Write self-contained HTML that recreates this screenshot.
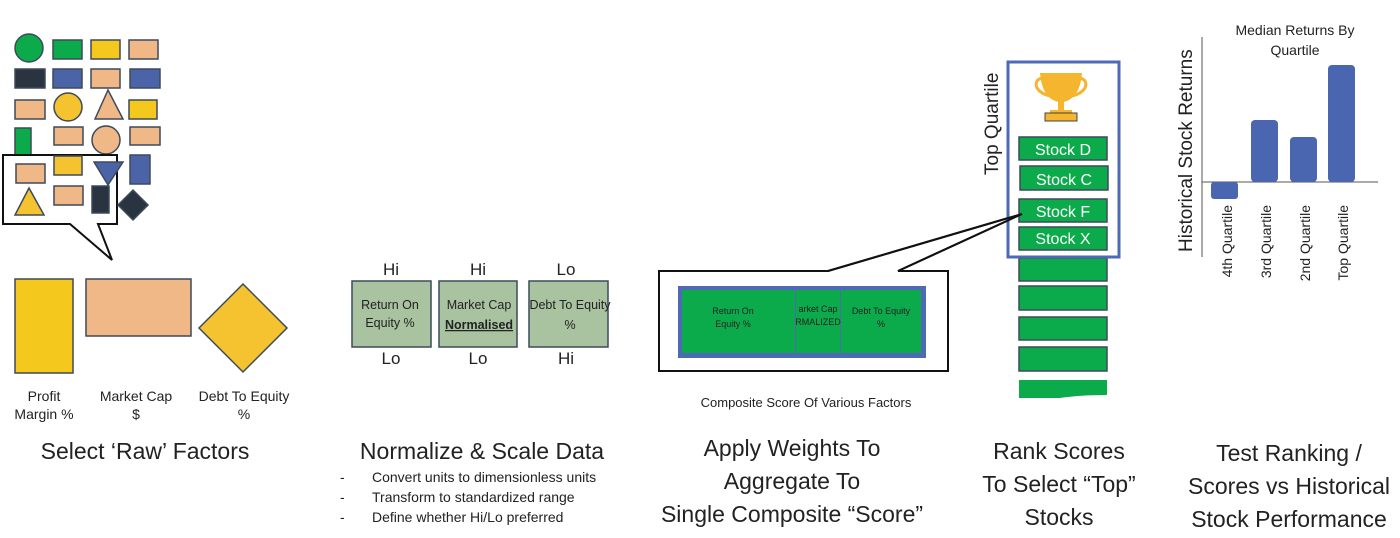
<!DOCTYPE html>
<html><head><meta charset="utf-8"><style>
html,body{margin:0;padding:0;background:#fff;}
svg{display:block;font-family:"Liberation Sans",sans-serif;}
</style></head><body>
<svg width="1400" height="538" viewBox="0 0 1400 538" xmlns="http://www.w3.org/2000/svg">
<g stroke="#3d4a5a" stroke-width="1.5">
<!-- row1 -->
<circle cx="29" cy="48" r="14" fill="#0bab4c"/>
<rect x="53" y="40" width="29" height="19" fill="#0bab4c"/>
<rect x="91" y="40" width="29" height="19" fill="#f5c81e"/>
<rect x="129" y="40" width="29" height="19" fill="#f0b787"/>
<!-- row2 -->
<rect x="15" y="69" width="30" height="19" fill="#2a3440"/>
<rect x="53" y="69" width="29" height="19" fill="#4b64a8"/>
<rect x="91" y="69" width="29" height="19" fill="#f0b787"/>
<rect x="130" y="69" width="30" height="19" fill="#4b64a8"/>
<!-- row3 -->
<rect x="15" y="100" width="30" height="19" fill="#f0b787"/>
<circle cx="68" cy="107" r="14" fill="#f5c230"/>
<polygon points="108,90 95,119 123,119" fill="#f0b787"/>
<rect x="129" y="100" width="28" height="19" fill="#f5c81e"/>
<!-- row4 -->
<rect x="15" y="128" width="16" height="27" fill="#0bab4c"/>
<rect x="54" y="127" width="29" height="18" fill="#f0b787"/>
<circle cx="106" cy="140" r="14" fill="#f0b787"/>
<rect x="130" y="127" width="30" height="18" fill="#f0b787"/>
</g>
<!-- callout -->
<path d="M3,155 H117 V224 H98 L112,260 L70,224 H3 Z" fill="#fff" stroke="#111" stroke-width="2"/>
<g stroke="#3d4a5a" stroke-width="1.5">
<rect x="16" y="164" width="29" height="19" fill="#f0b787"/>
<rect x="54" y="156" width="28" height="19" fill="#f5c230"/>
<polygon points="94,162 123,162 108,185" fill="#4b64a8"/>
<rect x="130" y="155" width="20" height="29" fill="#4b64a8"/>
<polygon points="29,188 15,215 44,215" fill="#f5c230"/>
<rect x="54" y="186" width="29" height="19" fill="#f0b787"/>
<rect x="92" y="186" width="17" height="27" fill="#2a3440"/>
<polygon points="133,190 148,205 133,220 118,205" fill="#2a3440"/>
</g>
<!-- big shapes -->
<rect x="15" y="279" width="58" height="94" fill="#f5c81e" stroke="#3d4a5a" stroke-width="1.5"/>
<rect x="86" y="279" width="105" height="57" fill="#f0b787" stroke="#3d4a5a" stroke-width="1.5"/>
<polygon points="243,284 287,328 243,372 199,328" fill="#f5c230" stroke="#3d4a5a" stroke-width="1.5"/>
<g font-size="14" fill="#222" text-anchor="middle">
<text x="44" y="401">Profit</text><text x="44" y="419">Margin %</text>
<text x="136" y="401">Market Cap</text><text x="136" y="419">$</text>
<text x="244" y="401">Debt To Equity</text><text x="244" y="419">%</text>
</g>
<!-- normalize -->
<g fill="#a9c3a0" stroke="#3d4a5a" stroke-width="1.5">
<rect x="352" y="281" width="79" height="66"/>
<rect x="439" y="281" width="78" height="66"/>
<rect x="529" y="281" width="79" height="66"/>
</g>
<g font-size="17" fill="#222" text-anchor="middle">
<text x="391" y="275">Hi</text><text x="478" y="275">Hi</text><text x="566" y="275">Lo</text>
<text x="391" y="364">Lo</text><text x="478" y="364">Lo</text><text x="566" y="364">Hi</text>
</g>
<g font-size="12.5" fill="#222" text-anchor="middle">
<text x="390" y="309">Return On</text><text x="390" y="327">Equity %</text>
<text x="479" y="309">Market Cap</text><text x="479" y="329" font-weight="bold" text-decoration="underline">Normalised</text>
<text x="570" y="309">Debt To Equity</text><text x="570" y="329">%</text>
</g>
<!-- composite callout -->
<path d="M659,271 H828 L1022,214 L898,271 H948 V371 H659 Z" fill="#fff" stroke="#111" stroke-width="2"/>
<rect x="678" y="286" width="248" height="72" fill="#4f6ab5"/>
<rect x="682" y="290" width="113" height="63" fill="#0bab4c"/>
<rect x="796" y="290" width="44" height="63" fill="#0bab4c"/>
<rect x="841" y="290" width="80" height="63" fill="#0bab4c"/>
<g font-size="9" fill="#222" text-anchor="middle">
<text x="733" y="314">Return On</text><text x="733" y="327">Equity %</text>
<text x="818" y="312">arket Cap</text><text x="818" y="325">RMALIZED</text>
<text x="881" y="314">Debt To Equity</text><text x="881" y="327">%</text>
</g>
<text x="806" y="407" font-size="13" fill="#222" text-anchor="middle">Composite Score Of Various Factors</text>
<!-- rank stack -->
<g fill="#0bab4c" stroke="#3d4a5a" stroke-width="1.5">
<rect x="1019" y="258" width="88" height="23"/>
<rect x="1019" y="286" width="88" height="24"/>
<rect x="1019" y="317" width="88" height="23"/>
<rect x="1019" y="347" width="88" height="24"/>
</g>
<path d="M1019,380 H1107 V395 Q1080,395 1060,398 H1019 Z" fill="#0bab4c"/>
<rect x="1008" y="62" width="111" height="195" fill="#fff" stroke="#4f6ab5" stroke-width="3"/>
<g fill="#0bab4c" stroke="#3d4a5a" stroke-width="1.5">
<rect x="1019" y="137" width="88" height="23"/>
<rect x="1020" y="166" width="88" height="24"/>
<rect x="1019" y="199" width="88" height="23"/>
<rect x="1019" y="227" width="88" height="23"/>
</g>
<line x1="1022" y1="214" x2="828" y2="271" stroke="#111" stroke-width="2"/>
<line x1="1022" y1="214" x2="898" y2="271" stroke="#111" stroke-width="2"/>
<g font-size="16" fill="#fff" text-anchor="middle">
<text x="1063" y="155">Stock D</text><text x="1064" y="185">Stock C</text>
<text x="1063" y="217">Stock F</text><text x="1063" y="244">Stock X</text>
</g>
<!-- trophy -->
<g fill="#f5b52e">
<path d="M1040,73 H1082 Q1080,98 1064,102 H1058 Q1042,98 1040,73 Z"/>
<path d="M1042,78 Q1034,80 1037,88 Q1041,94 1050,96" fill="none" stroke="#f5b52e" stroke-width="3"/>
<path d="M1080,78 Q1088,80 1085,88 Q1081,94 1072,96" fill="none" stroke="#f5b52e" stroke-width="3"/>
<rect x="1058" y="101" width="6" height="10"/>
<rect x="1050" y="110" width="22" height="4"/>
<rect x="1045" y="113" width="32" height="8" stroke="#444" stroke-width="1"/>
</g>
<text transform="translate(998,175) rotate(-90)" font-size="19" fill="#222">Top Quartile</text>
<!-- chart -->
<line x1="1202" y1="37" x2="1202" y2="257" stroke="#555" stroke-width="1"/>
<line x1="1202" y1="182" x2="1378" y2="182" stroke="#555" stroke-width="1"/>
<g fill="#4b66b0">
<rect x="1211" y="182" width="27" height="17" rx="3"/>
<rect x="1251" y="120" width="27" height="62" rx="4"/>
<rect x="1290" y="137" width="27" height="45" rx="4"/>
<rect x="1328" y="65" width="27" height="117" rx="4"/>
</g>
<g font-size="14" fill="#222" text-anchor="middle">
<text x="1295" y="35">Median Returns By</text><text x="1295" y="55">Quartile</text>
</g>
<text transform="translate(1192,252) rotate(-90)" font-size="19" fill="#222">Historical Stock Returns</text>
<g font-size="14" fill="#222" text-anchor="end">
<text transform="translate(1232,205) rotate(-90)">4th Quartile</text>
<text transform="translate(1271,205) rotate(-90)">3rd Quartile</text>
<text transform="translate(1310,205) rotate(-90)">2nd Quartile</text>
<text transform="translate(1348,205) rotate(-90)">Top Quartile</text>
</g>
<!-- bottom titles -->
<g font-size="23" fill="#222" text-anchor="middle">
<text x="145" y="459">Select ‘Raw’ Factors</text>
<text x="482" y="459">Normalize &amp; Scale Data</text>
<text x="792" y="456">Apply Weights To</text>
<text x="792" y="489">Aggregate To</text>
<text x="792" y="522">Single Composite “Score”</text>
<text x="1059" y="459">Rank Scores</text>
<text x="1059" y="492">To Select “Top”</text>
<text x="1059" y="525">Stocks</text>
<text x="1289" y="461">Test Ranking /</text>
<text x="1289" y="494">Scores vs Historical</text>
<text x="1289" y="527">Stock Performance</text>
</g>
<g font-size="14" fill="#222">
<text x="340" y="482">-</text><text x="372" y="482">Convert units to dimensionless units</text>
<text x="340" y="502">-</text><text x="372" y="502">Transform to standardized range</text>
<text x="340" y="522">-</text><text x="372" y="522">Define whether Hi/Lo preferred</text>
</g>
</svg>
</body></html>
